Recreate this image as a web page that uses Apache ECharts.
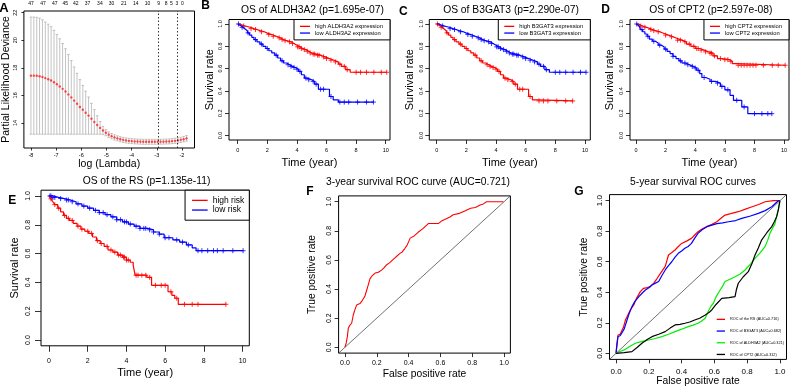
<!DOCTYPE html>
<html><head><meta charset="utf-8">
<script src="https://cdn.jsdelivr.net/npm/echarts@6/dist/echarts.min.js"></script>
<style>html,body{margin:0;padding:0;background:#fff}#c{width:792px;height:389px}</style>
</head><body><div id="c"></div>
<script>
// ---------- Panel A : cross-validation curve ----------
const aLogLambda = [-8.000,-7.886,-7.771,-7.657,-7.542,-7.428,-7.313,-7.199,-7.084,-6.970,-6.855,-6.741,-6.626,-6.512,-6.397,-6.283,-6.168,-6.054,-5.939,-5.825,-5.710,-5.596,-5.481,-5.367,-5.252,-5.138,-5.023,-4.909,-4.794,-4.680,-4.565,-4.451,-4.336,-4.222,-4.107,-3.993,-3.878,-3.764,-3.649,-3.535,-3.420,-3.306,-3.191,-3.077,-2.962,-2.848,-2.733,-2.619,-2.504,-2.390,-2.275,-2.161,-2.046,-1.932,-1.817];
const aDeviance = [17.43,17.43,17.42,17.39,17.33,17.25,17.17,17.08,16.95,16.80,16.64,16.47,16.28,16.07,15.85,15.62,15.39,15.16,14.95,14.74,14.53,14.30,14.07,13.85,13.64,13.45,13.29,13.15,13.04,12.95,12.88,12.82,12.77,12.73,12.70,12.68,12.66,12.65,12.64,12.63,12.63,12.63,12.63,12.63,12.63,12.64,12.64,12.65,12.66,12.68,12.70,12.73,12.77,12.82,12.88];
const aDevianceSE = [4.25,4.25,4.24,4.21,4.15,4.07,3.99,3.90,3.77,3.62,3.46,3.29,3.10,2.89,2.67,2.44,2.21,1.98,1.77,1.56,1.35,1.12,0.89,0.67,0.46,0.30,0.22,0.20,0.19,0.19,0.18,0.18,0.18,0.18,0.18,0.18,0.18,0.18,0.18,0.18,0.18,0.18,0.18,0.18,0.18,0.18,0.18,0.18,0.18,0.18,0.19,0.19,0.19,0.20,0.20];
const aSelectedLambda = [-2.93, -2.18];
const aTopLambda = [-8.0,-7.52,-7.05,-6.64,-6.22,-5.75,-5.26,-4.8,-4.31,-3.83,-3.37,-2.93,-2.63,-2.42,-2.2,-1.98];
const aTopCounts = ['47','47','47','45','42','37','34','30','21','14','10','9','8','5','3','0'];

// ---------- Panel B : ALDH3A2 ----------
const bHighT = [0,0.15,0.3,0.5,0.7,0.9,1.1,1.3,1.5,1.8,2.0,2.3,2.6,2.9,3.1,3.3,3.6,3.8,4.0,4.2,4.4,4.6,4.8,5.0,5.3,5.6,5.9,6.2,6.5,6.8,7.0,7.3,7.6,10.07];
const bHighS = [1,0.99,0.982,0.975,0.968,0.958,0.95,0.94,0.93,0.918,0.905,0.89,0.875,0.86,0.85,0.84,0.825,0.81,0.795,0.78,0.77,0.755,0.74,0.73,0.72,0.705,0.69,0.675,0.66,0.64,0.62,0.59,0.567,0.567];
const bHighCens = [0.4,0.9,1.2,1.6,2.1,2.4,2.8,3.0,3.2,3.5,3.7,4.05,4.15,4.3,4.5,4.7,4.9,5.1,5.2,5.4,5.5,5.8,6.0,6.3,6.6,6.9,7.2,7.4,8.0,8.3,8.7,9.2,9.7,10.07];
const bLowT = [0,0.1,0.2,0.35,0.5,0.65,0.8,0.95,1.1,1.3,1.5,1.7,1.9,2.1,2.3,2.5,2.7,2.9,3.1,3.3,3.5,3.7,3.9,4.1,4.3,4.5,4.7,5.0,5.2,5.45,6.2,6.45,6.8,9.17];
const bLowS = [1,0.985,0.97,0.955,0.94,0.92,0.9,0.88,0.86,0.84,0.82,0.8,0.78,0.76,0.74,0.72,0.695,0.67,0.65,0.635,0.62,0.61,0.595,0.575,0.545,0.515,0.5,0.485,0.46,0.415,0.35,0.32,0.30,0.30];
const bLowCens = [0.05,0.3,0.7,1.2,1.6,2.0,2.6,3.0,3.4,3.6,3.8,4.0,4.2,4.6,4.8,5.1,5.3,5.6,5.8,6.3,6.9,7.2,7.5,8.1,8.7,9.17];

// ---------- Panel C : B3GAT3 ----------
const cHighT = [0,0.1,0.2,0.35,0.5,0.65,0.8,0.95,1.1,1.3,1.5,1.7,1.9,2.1,2.3,2.5,2.7,2.9,3.1,3.3,3.5,3.7,3.9,4.1,4.3,4.5,4.7,5.0,5.2,5.45,6.2,6.45,6.8,9.17];
const cHighS = [1,0.985,0.97,0.955,0.94,0.92,0.9,0.88,0.86,0.84,0.82,0.8,0.78,0.76,0.74,0.72,0.695,0.67,0.65,0.635,0.62,0.61,0.595,0.575,0.545,0.515,0.5,0.485,0.46,0.415,0.35,0.32,0.31,0.31];
const cHighCens = [0.05,0.3,0.7,1.2,1.6,2.0,2.6,3.0,3.4,3.6,3.8,4.0,4.2,4.6,4.8,5.1,5.3,5.6,5.8,6.3,6.9,7.2,7.5,8.1,8.7,9.17];
const cLowT = [0,0.15,0.3,0.5,0.7,0.9,1.1,1.3,1.5,1.8,2.0,2.3,2.6,2.9,3.1,3.3,3.6,3.8,4.0,4.2,4.4,4.6,4.8,5.0,5.3,5.6,5.9,6.2,6.5,6.8,7.0,7.3,7.6,10.07];
const cLowS = [1,0.99,0.982,0.975,0.968,0.958,0.95,0.94,0.93,0.918,0.905,0.89,0.875,0.86,0.85,0.84,0.825,0.81,0.795,0.78,0.77,0.755,0.74,0.73,0.72,0.705,0.69,0.675,0.66,0.64,0.62,0.59,0.567,0.567];
const cLowCens = [0.4,0.9,1.2,1.6,2.1,2.4,2.8,3.0,3.2,3.5,3.7,4.05,4.15,4.3,4.5,4.7,4.9,5.1,5.2,5.4,5.5,5.8,6.0,6.3,6.6,6.9,7.2,7.4,8.0,8.3,8.7,9.2,9.7,10.07];

// ---------- Panel D : CPT2 ----------
const dHighT = [0,0.15,0.3,0.5,0.7,0.9,1.1,1.3,1.6,1.9,2.2,2.5,2.8,3.1,3.4,3.7,4.0,4.3,4.6,4.9,5.2,5.5,5.8,6.3,6.5,6.75,10.07];
const dHighS = [1,0.99,0.98,0.97,0.96,0.95,0.94,0.93,0.915,0.9,0.885,0.87,0.855,0.84,0.82,0.8,0.78,0.765,0.75,0.738,0.714,0.69,0.68,0.665,0.645,0.63,0.63];
const dHighCens = [0.3,0.6,1.0,1.2,1.5,2.0,2.4,2.8,3.0,3.3,3.6,3.9,4.1,4.2,4.4,4.7,5.0,5.1,5.3,5.7,6.0,6.2,6.4,6.9,7.1,7.3,7.5,7.7,7.9,8.1,8.6,9.2,9.6,10.07];
const dLowT = [0,0.1,0.2,0.3,0.45,0.6,0.75,0.9,1.1,1.3,1.5,1.7,1.9,2.1,2.3,2.5,2.7,2.9,3.1,3.35,3.6,3.85,4.1,4.3,4.45,4.7,5.0,5.35,5.7,6.0,6.35,6.58,7.14,7.55,9.17];
const dLowS = [1,0.985,0.97,0.95,0.93,0.91,0.89,0.865,0.845,0.83,0.81,0.795,0.775,0.755,0.735,0.71,0.69,0.67,0.65,0.635,0.62,0.605,0.585,0.555,0.52,0.505,0.485,0.47,0.44,0.41,0.36,0.316,0.256,0.196,0.196];
const dLowCens = [0.05,0.4,0.8,1.2,1.6,2.0,2.5,3.0,3.3,3.5,3.8,4.0,4.2,4.6,5.1,5.5,5.8,6.2,6.8,7.3,8.0,8.5,8.9,9.17];

// ---------- Panel E : risk score ----------
const eHighT = [0,0.1,0.2,0.3,0.45,0.6,0.75,0.9,1.05,1.25,1.45,1.65,1.85,2.05,2.25,2.45,2.65,2.85,3.05,3.3,3.55,3.8,4.0,4.2,4.35,4.45,5.05,5.3,6.15,6.35,6.5,6.68,9.14];
const eHighS = [1,0.98,0.96,0.94,0.915,0.89,0.865,0.845,0.83,0.81,0.79,0.77,0.755,0.74,0.715,0.69,0.67,0.65,0.625,0.61,0.59,0.575,0.555,0.54,0.52,0.45,0.435,0.38,0.335,0.31,0.29,0.248,0.248];
const eHighCens = [0.1,0.3,0.5,0.8,1.0,1.2,1.5,1.7,2.0,2.2,2.5,2.7,3.0,3.2,3.4,3.6,3.7,3.85,3.9,4.0,4.1,4.5,4.6,4.8,5.0,5.2,5.5,5.8,6.0,6.3,6.6,7.0,7.4,7.7,9.14];
const eLowT = [0,0.2,0.5,0.8,1.1,1.4,1.7,2.0,2.3,2.6,2.9,3.2,3.5,3.8,4.1,4.4,4.7,5.1,5.4,5.7,5.95,6.4,6.75,7.1,7.4,7.6,10.03];
const eLowS = [1,0.99,0.982,0.972,0.96,0.945,0.93,0.915,0.9,0.885,0.87,0.855,0.835,0.82,0.805,0.79,0.775,0.765,0.75,0.735,0.71,0.695,0.68,0.66,0.64,0.62,0.62];
const eLowCens = [0.05,0.1,0.2,0.3,0.6,0.9,1.0,1.2,1.5,1.8,2.1,2.4,2.6,2.8,3.0,3.3,3.5,3.7,3.9,4.0,4.2,4.5,4.7,4.9,5.0,5.2,5.4,5.7,6.0,6.2,6.6,6.9,7.2,7.7,7.9,8.2,8.5,8.7,9.0,9.5,10.03];

// ---------- Panel F : 3-year ROC ----------
const fFpr = [0,0.008,0.015,0.021,0.03,0.042,0.052,0.06,0.073,0.085,0.094,0.105,0.115,0.125,0.136,0.147,0.157,0.17,0.19,0.21,0.23,0.245,0.26,0.28,0.30,0.32,0.346,0.36,0.377,0.39,0.41,0.435,0.46,0.49,0.524,0.555,0.587,0.61,0.64,0.66,0.68,0.72,0.75,0.79,0.82,0.85,0.87,0.89,0.94,0.996];
const fTpr = [0,0.03,0.073,0.13,0.15,0.165,0.22,0.25,0.29,0.30,0.30,0.315,0.325,0.35,0.39,0.43,0.47,0.49,0.51,0.515,0.53,0.545,0.565,0.58,0.60,0.62,0.645,0.655,0.68,0.70,0.75,0.765,0.79,0.815,0.85,0.85,0.85,0.87,0.885,0.895,0.91,0.92,0.935,0.955,0.96,0.977,0.985,1.0,1.0,1.0];

// ---------- Panel G : 5-year ROC ----------
const gRsFpr = [0,0.005,0.012,0.025,0.037,0.045,0.057,0.067,0.077,0.09,0.108,0.125,0.148,0.168,0.19,0.209,0.23,0.25,0.275,0.30,0.32,0.34,0.36,0.38,0.40,0.43,0.46,0.48,0.50,0.525,0.554,0.585,0.615,0.64,0.665,0.70,0.746,0.79,0.83,0.87,0.91,0.96,1.0];
const gRsTpr = [0,0.06,0.12,0.125,0.131,0.17,0.218,0.24,0.262,0.29,0.317,0.36,0.404,0.426,0.43,0.437,0.46,0.49,0.53,0.57,0.644,0.66,0.677,0.70,0.72,0.735,0.753,0.775,0.797,0.815,0.83,0.845,0.862,0.885,0.906,0.915,0.928,0.945,0.96,0.975,0.993,1.0,1.0];
const gB3Fpr = [0,0.005,0.012,0.025,0.037,0.05,0.067,0.08,0.097,0.115,0.138,0.16,0.179,0.2,0.219,0.24,0.26,0.28,0.30,0.32,0.34,0.36,0.38,0.40,0.42,0.44,0.46,0.48,0.50,0.525,0.554,0.585,0.615,0.65,0.686,0.73,0.767,0.82,0.868,0.91,0.95,0.99,1.0];
const gB3Tpr = [0,0.05,0.11,0.115,0.12,0.16,0.218,0.26,0.306,0.34,0.37,0.395,0.415,0.43,0.448,0.46,0.47,0.51,0.546,0.575,0.60,0.63,0.655,0.67,0.688,0.70,0.72,0.755,0.786,0.81,0.83,0.84,0.85,0.855,0.862,0.87,0.884,0.9,0.917,0.935,0.96,1.0,1.0];
const gAlFpr = [0,0.02,0.057,0.09,0.118,0.16,0.199,0.24,0.28,0.32,0.36,0.40,0.44,0.47,0.50,0.52,0.544,0.565,0.58,0.594,0.61,0.635,0.65,0.665,0.695,0.726,0.757,0.787,0.82,0.848,0.88,0.909,0.925,0.939,0.955,0.97,0.98,0.99,1.0];
const gAlTpr = [0,0.01,0.026,0.05,0.066,0.078,0.087,0.097,0.109,0.125,0.142,0.158,0.175,0.185,0.197,0.21,0.23,0.28,0.31,0.328,0.37,0.415,0.44,0.47,0.485,0.502,0.52,0.546,0.585,0.622,0.66,0.699,0.74,0.786,0.82,0.85,0.9,0.94,1.0];
const gCpFpr = [0,0.05,0.097,0.13,0.158,0.19,0.219,0.26,0.30,0.33,0.36,0.39,0.42,0.45,0.48,0.51,0.544,0.565,0.584,0.61,0.645,0.69,0.726,0.735,0.746,0.775,0.807,0.83,0.848,0.868,0.888,0.92,0.95,0.965,0.98,0.99,1.0];
const gCpTpr = [0,0.005,0.011,0.04,0.066,0.09,0.109,0.125,0.142,0.165,0.186,0.19,0.197,0.205,0.218,0.23,0.251,0.265,0.284,0.32,0.36,0.365,0.371,0.42,0.459,0.5,0.535,0.59,0.644,0.69,0.742,0.79,0.83,0.86,0.895,0.94,1.0];

// ---------- tick labels ----------
const kmTimeTicks = [0,2,4,6,8,10];
const rateTicks = [0,0.2,0.4,0.6,0.8,1.0];
const aXTicks = [-8,-7,-6,-5,-4,-3,-2];
const aYTicks = [14,16,18,20,22];

// ---------- rendering ----------
const FONT = '"Liberation Sans", Arial, sans-serif';
const RED = '#ff0000', BLUE = '#0000ff', GREEN = '#00ee00', BLACK = '#000000';
const RATE_MIN = -0.04, RATE_MAX = 1.04;

function survAt(T, S, t) { let s = S[0]; for (let i = 0; i < T.length; i++) { if (T[i] <= t) s = S[i]; } return s; }
const pairs = (X, Y) => X.map((x, i) => [x, Y[i]]);
const censPts = (T, S, C) => C.map(t => [t, survAt(T, S, t)]);
const f1 = v => v.toFixed(1);
const f0 = v => String(v);

function xAx(gi, min, max, ticks, o) {
  return { type: 'value', gridIndex: gi, min, max, position: 'bottom',
    axisLine: { show: false, onZero: false }, splitLine: { show: false },
    axisTick: { show: true, customValues: ticks, length: o.tick, lineStyle: { color: '#000', width: 0.8 } },
    axisLabel: { customValues: ticks, fontSize: o.fs, margin: o.margin, color: '#000', fontFamily: FONT, formatter: o.fmt },
    name: o.name, nameLocation: 'middle', nameGap: o.gap,
    nameTextStyle: { fontSize: o.nfs, color: '#000', fontFamily: FONT } };
}
function yAx(gi, min, max, ticks, o) {
  return { type: 'value', gridIndex: gi, min, max, position: 'left',
    axisLine: { show: false, onZero: false }, splitLine: { show: false },
    axisTick: { show: true, customValues: ticks, length: o.tick, lineStyle: { color: '#000', width: 0.8 } },
    axisLabel: { customValues: ticks, fontSize: o.fs, margin: o.margin, color: '#000', fontFamily: FONT, formatter: o.fmt, rotate: 90 },
    name: o.name, nameLocation: 'middle', nameGap: o.gap,
    nameTextStyle: { fontSize: o.nfs, color: '#000', fontFamily: FONT } };
}
const gridBox = (left, top, width, height) => ({ left, top, width, height, show: true, borderColor: '#000', borderWidth: 1, backgroundColor: 'transparent', containLabel: false });

function kmSeries(xi, yi, name, T, S, C, color) {
  return [
    { type: 'line', name, xAxisIndex: xi, yAxisIndex: yi, data: pairs(T, S), step: 'end', showSymbol: false, symbol: 'none', color,
      lineStyle: { color, width: 1.2 }, silent: true },
    { type: 'scatter', name: name + ' censored', xAxisIndex: xi, yAxisIndex: yi, data: censPts(T, S, C),
      symbol: 'path://M0,5L10,5M5,0L5,10', symbolSize: 5,
      itemStyle: { color: 'rgba(0,0,0,0)', borderColor: color, borderWidth: 1 }, silent: true }
  ];
}
function rocSeries(xi, yi, name, X, Y, color, w) {
  return { type: 'line', name, xAxisIndex: xi, yAxisIndex: yi, data: pairs(X, Y), showSymbol: false, symbol: 'none', color,
    lineStyle: { color, width: w }, silent: true };
}
function diag(xi, yi) {
  return { type: 'line', xAxisIndex: xi, yAxisIndex: yi, data: [[RATE_MIN, RATE_MIN], [RATE_MAX, RATE_MAX]], showSymbol: false, symbol: 'none',
    lineStyle: { color: '#333', width: 0.7 }, silent: true };
}
function legendBox(names, pos, o) {
  return Object.assign({ data: names, orient: 'vertical', icon: 'rect', itemWidth: o.iw, itemHeight: 1.3, itemGap: 0,
    padding: o.pad, borderColor: o.border ? '#000' : 'transparent', borderWidth: o.border ? 1 : 0, borderRadius: 0,
    backgroundColor: o.border ? '#fff' : 'transparent', selectedMode: false,
    textStyle: { fontSize: o.fs, lineHeight: o.lh, color: '#000', fontFamily: FONT } }, pos);
}
const txt = (text, x, y, size, bold) => ({ type: 'text', x, y, silent: true,
  style: { text, fill: '#000', font: (bold ? 'bold ' : '') + size + 'px ' + FONT, align: 'center', verticalAlign: 'middle' } });

const kmX = (gi, min, max, o) => xAx(gi, min, max, kmTimeTicks, Object.assign({ fmt: f0, name: 'Time (year)' }, o));
const kmY = (gi, o) => yAx(gi, RATE_MIN, RATE_MAX, rateTicks, Object.assign({ fmt: f1, name: 'Survival rate' }, o));

const option = {
  animation: false,
  textStyle: { fontFamily: FONT },
  grid: [
    gridBox(21.7, 11, 172.8, 137),     // A
    gridBox(229, 19.5, 161, 120.5),    // B
    gridBox(429.3, 19.5, 161, 120.5),  // C
    gridBox(630, 19.5, 159, 120.5),    // D
    gridBox(41, 190.2, 208.3, 155.6),  // E
    gridBox(338.6, 195.9, 171.8, 157.2), // F
    gridBox(609.5, 194.6, 177, 164.8)  // G
  ],
  xAxis: [
    xAx(0, -8.28, -1.5, aXTicks, { tick: 2.5, fs: 5.5, margin: 4, fmt: f0, name: 'log (Lambda)', gap: 10.5, nfs: 10.5 }),
    { type: 'value', gridIndex: 0, min: -8.28, max: -1.5, position: 'top',
      axisLine: { show: false, onZero: false }, splitLine: { show: false }, axisTick: { show: false },
      axisLabel: { customValues: aTopLambda, fontSize: 5, margin: 5, color: '#000', fontFamily: FONT,
        formatter: v => aTopCounts[aTopLambda.indexOf(v)] } },
    kmX(1, -0.59, 10.29, { tick: 4, fs: 5.5, margin: 7, gap: 17.5, nfs: 11 }),
    kmX(2, -0.5, 10.36, { tick: 4, fs: 5.5, margin: 7, gap: 17.5, nfs: 11 }),
    kmX(3, -0.405, 10.33, { tick: 4, fs: 5.5, margin: 7, gap: 17.5, nfs: 11 }),
    kmX(4, -0.413, 10.35, { tick: 6, fs: 7, margin: 12, gap: 21.5, nfs: 11 }),
    xAx(5, RATE_MIN, RATE_MAX, rateTicks, { tick: 4, fs: 7, margin: 6.5, fmt: f1, name: 'False positive rate', gap: 16.5, nfs: 10.3 }),
    xAx(6, RATE_MIN, RATE_MAX, rateTicks, { tick: 4, fs: 8, margin: 8, fmt: f1, name: 'False positive rate', gap: 16.5, nfs: 10.3 })
  ],
  yAxis: [
    yAx(0, 12.18, 22.12, aYTicks, { tick: 2.5, fs: 5.5, margin: 5, fmt: f0, name: 'Partial Likelihood Deviance', gap: 10.5, nfs: 10.5 }),
    kmY(1, { tick: 4, fs: 5.5, margin: 6, gap: 13.5, nfs: 11 }),
    kmY(2, { tick: 4, fs: 5.5, margin: 5, gap: 13.8, nfs: 11 }),
    kmY(3, { tick: 4, fs: 5.5, margin: 5.5, gap: 14.5, nfs: 11 }),
    kmY(4, { tick: 6, fs: 7, margin: 9, gap: 20.5, nfs: 11 }),
    yAx(5, RATE_MIN, RATE_MAX, rateTicks, { tick: 4, fs: 7, margin: 6.5, fmt: f1, name: 'True positive rate', gap: 21.5, nfs: 10.3 }),
    yAx(6, RATE_MIN, RATE_MAX, rateTicks, { tick: 4, fs: 8, margin: 5.5, fmt: f1, name: 'True positive rate', gap: 20, nfs: 10.3 })
  ],
  legend: [
    legendBox(['high ALDH3A2 expression', 'low ALDH3A2 expression'], { right: 792 - 390, top: 19.5 }, { iw: 10, pad: [3.5, 7, 3.5, 6], fs: 5.8, lh: 6.7, border: true }),
    legendBox(['high B3GAT3 expression', 'low B3GAT3 expression'], { right: 792 - 590.3, top: 19.5 }, { iw: 10, pad: [3.5, 7, 3.5, 6], fs: 5.8, lh: 6.7, border: true }),
    legendBox(['high CPT2 expression', 'low CPT2 expression'], { right: 792 - 789, top: 19.5 }, { iw: 10, pad: [3.5, 7, 3.5, 6], fs: 5.8, lh: 6.7, border: true }),
    legendBox(['high risk', 'low risk'], { right: 792 - 249.3, top: 190.2 }, { iw: 15.6, pad: [5.3, 5, 5.3, 7], fs: 8.5, lh: 9.7, border: true }),
    legendBox(['ROC of the RS (AUC=0.716)', 'ROC of B3GAT3 (AUC=0.682)', 'ROC of ALDH3A2 (AUC=0.321)', 'ROC of CPT2 (AUC=0.312)'],
      { left: 716.7, top: 313.5 }, { iw: 8.3, pad: 0, fs: 3.8, lh: 11.7, border: false })
  ],
  graphic: [
    txt('A', 4, 8, 13, true), txt('B', 205.7, 6, 12, true), txt('C', 403.3, 11.5, 12, true), txt('D', 605.7, 10, 12, true),
    txt('E', 12.3, 200.7, 12, true), txt('F', 310, 191.7, 12, true), txt('G', 579, 191.7, 12, true),
    txt('OS of ALDH3A2 (p=1.695e-07)', 312.5, 10, 10.3), txt('OS of B3GAT3 (p=2.290e-07)', 511, 10, 10.3),
    txt('OS of CPT2 (p=2.597e-08)', 710.8, 10, 10.3), txt('OS of the RS (p=1.135e-11)', 146.5, 181.5, 10.3),
    txt('3-year survival ROC curve (AUC=0.721)', 418, 182, 10.3), txt('5-year survival ROC curves', 693, 181.7, 10.3)
  ],
  series: [
    { type: 'custom', xAxisIndex: 0, yAxisIndex: 0, silent: true,
      data: aLogLambda.map((l, i) => [l, aDeviance[i], aDevianceSE[i]]),
      encode: { x: 0, y: 1 },
      renderItem: (params, api) => {
        const x = api.value(0), m = api.value(1), s = api.value(2);
        const t = api.coord([x, m + s]), b = api.coord([x, m - s]);
        const w = 1.3, st = { stroke: '#b4b4b4', lineWidth: 0.8 };
        return { type: 'group', children: [
          { type: 'line', shape: { x1: t[0], y1: t[1], x2: b[0], y2: b[1] }, style: st },
          { type: 'line', shape: { x1: t[0] - w, y1: t[1], x2: t[0] + w, y2: t[1] }, style: st },
          { type: 'line', shape: { x1: b[0] - w, y1: b[1], x2: b[0] + w, y2: b[1] }, style: st }
        ] };
      } },
    { type: 'scatter', xAxisIndex: 0, yAxisIndex: 0, data: pairs(aLogLambda, aDeviance), symbolSize: 2.4,
      itemStyle: { color: '#ff2020' }, silent: true,
      markLine: { symbol: 'none', silent: true, label: { show: false }, lineStyle: { type: [1.5, 2], color: '#000', width: 0.8 },
        data: aSelectedLambda.map(v => ({ xAxis: v })) } },
    ...kmSeries(2, 1, 'high ALDH3A2 expression', bHighT, bHighS, bHighCens, RED),
    ...kmSeries(2, 1, 'low ALDH3A2 expression', bLowT, bLowS, bLowCens, BLUE),
    ...kmSeries(3, 2, 'high B3GAT3 expression', cHighT, cHighS, cHighCens, RED),
    ...kmSeries(3, 2, 'low B3GAT3 expression', cLowT, cLowS, cLowCens, BLUE),
    ...kmSeries(4, 3, 'high CPT2 expression', dHighT, dHighS, dHighCens, RED),
    ...kmSeries(4, 3, 'low CPT2 expression', dLowT, dLowS, dLowCens, BLUE),
    ...kmSeries(5, 4, 'high risk', eHighT, eHighS, eHighCens, RED),
    ...kmSeries(5, 4, 'low risk', eLowT, eLowS, eLowCens, BLUE),
    diag(6, 5),
    rocSeries(6, 5, '3-year ROC', fFpr, fTpr, RED, 1.1),
    diag(7, 6),
    rocSeries(7, 6, 'ROC of the RS (AUC=0.716)', gRsFpr, gRsTpr, RED, 1.2),
    rocSeries(7, 6, 'ROC of B3GAT3 (AUC=0.682)', gB3Fpr, gB3Tpr, BLUE, 1.2),
    rocSeries(7, 6, 'ROC of ALDH3A2 (AUC=0.321)', gAlFpr, gAlTpr, GREEN, 1.2),
    rocSeries(7, 6, 'ROC of CPT2 (AUC=0.312)', gCpFpr, gCpTpr, BLACK, 1.2)
  ]
};
const chart = echarts.init(document.getElementById('c'), null, { renderer: 'canvas' });
chart.setOption(option);
</script></body></html>
